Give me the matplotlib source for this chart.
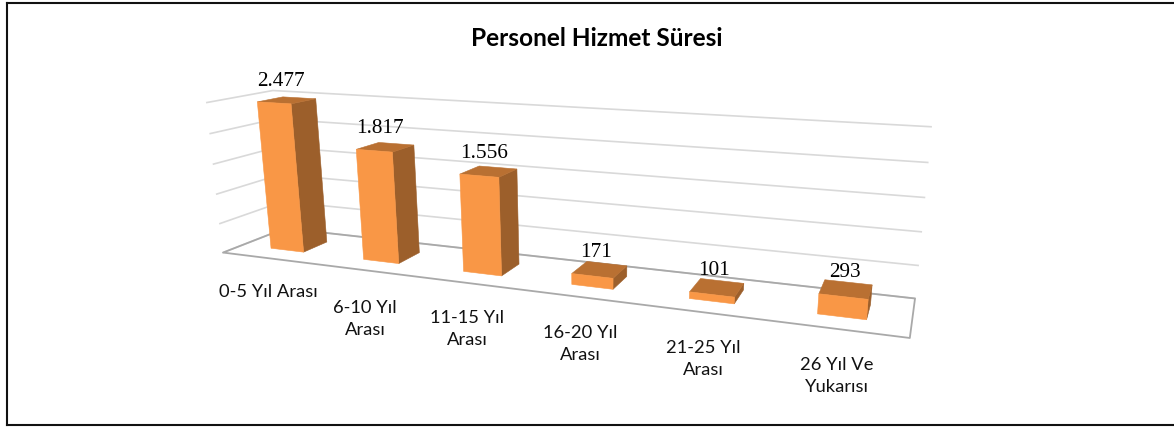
import numpy as np
import matplotlib
matplotlib.use("Agg")
import matplotlib.pyplot as plt
from matplotlib.patches import Polygon

title = "Personel Hizmet Süresi"
categories = ["0-5 Yıl Arası", "6-10 Yıl\nArası", "11-15 Yıl\nArası",
              "16-20 Yıl\nArası", "21-25 Yıl\nArası", "26 Yıl Ve\nYukarısı"]
values = [2477, 1817, 1556, 171, 101, 293]
value_labels = ["2.477", "1.817", "1.556", "171", "101", "293"]
grid_values = [0, 500, 1000, 1500, 2000, 2500]

# Layout: label centres in pixels
label_xy = [(268, 292), (365, 319), (467, 329), (580, 344), (703, 359), (837, 376)]

FRONT, SIDE, TOP = "#F99746", "#9C5F2B", "#B97032"
GRID, FLOOR = "#D9D9D9", "#A9A9A9"
BAR_W, Y0, Y1 = 0.36, 0.30, 0.70
W, H = 1174, 430

# Calibration of the chart's perspective: (category, depth, value) -> pixel
calib = [
    (0, 0, 0, 223, 252), (0, 1, 0, 286, 229), (6, 1, 0, 915, 298), (6, 0, 0, 910, 338),
    (0, 0, 2500, 207, 103), (0, 1, 2500, 272, 90), (6, 1, 2500, 931, 127),
    (.5, Y0, 0, 286.5, 250), (1.5, Y0, 0, 381, 262), (2.5, Y0, 0, 482, 274),
    (3.5, Y0, 0, 592, 286), (4.5, Y0, 0, 712, 301), (5.5, Y0, 0, 842, 317),
    (.5, Y0, 2477, 274.5, 103), (1.5, Y0, 1817, 375, 150), (2.5, Y0, 1556, 479, 176),
    (5.5, Y0, 293, 843, 297),
]
A, b = [], []
for x, y, z, u, v in calib:
    z = z / 1000
    A.append([x, y, z, 1, 0, 0, 0, 0, -u * x, -u * y, -u * z]); b.append(u)
    A.append([0, 0, 0, 0, x, y, z, 1, -v * x, -v * y, -v * z]); b.append(v)
p = np.linalg.lstsq(np.array(A, float), np.array(b, float), rcond=None)[0]
P = np.append(p, 1).reshape(3, 4)


def proj(x, y, z):
    q = P @ np.array([x, y, z / 1000, 1.0])
    return q[0] / q[2], q[1] / q[2]


fig = plt.figure(figsize=(W / 100, H / 100), dpi=100)
ax = fig.add_axes([0, 0, 1, 1])
ax.set_xlim(0, W)
ax.set_ylim(H, 0)
ax.axis("off")

# outer frame
ax.plot([7, 7], [2.5, 425], color="#111111", lw=1.5, zorder=1)
ax.plot([7, W], [2.5, 2.5], color="#111111", lw=1.5, zorder=1)
ax.plot([7, W], [425, 425], color="#111111", lw=1.5, zorder=1)

n = len(values)
for g in grid_values:
    a, c, d = proj(0, 0, g), proj(0, 1, g), proj(n, 1, g)
    ax.plot([a[0], c[0], d[0]], [a[1], c[1], d[1]], color=GRID, lw=1.2, zorder=2)

fl = [proj(0, 1, 0), proj(0, 0, 0), proj(n, 0, 0), proj(n, 1, 0), proj(0, 1, 0)]
ax.plot(*zip(*fl), color=FLOOR, lw=1.3, zorder=3)

for i, v in enumerate(values):
    x0, x1 = i + .5 - BAR_W / 2, i + .5 + BAR_W / 2
    faces = [
        ([(x1, Y0, 0), (x1, Y1, 0), (x1, Y1, v), (x1, Y0, v)], SIDE),
        ([(x0, Y0, v), (x1, Y0, v), (x1, Y1, v), (x0, Y1, v)], TOP),
        ([(x0, Y0, 0), (x1, Y0, 0), (x1, Y0, v), (x0, Y0, v)], FRONT),
    ]
    for pts, col in faces:
        ax.add_patch(Polygon([proj(*q) for q in pts], closed=True, fc=col, ec=col, lw=.4, zorder=4 + i))
    tx, ty = proj(i + .5, Y0 + 0.1, v)
    ax.text(tx, ty - 20, value_labels[i], family="Liberation Serif", fontsize=15.3,
            ha="center", va="center", color="black", zorder=20)

for lab, (x, y) in zip(categories, label_xy):
    ax.text(x, y, lab, family="Lato", fontsize=13.2, ha="center", va="center",
            color="#111111", linespacing=1.5, zorder=20)

ax.text(597, 38, title, family="Lato", fontsize=17.6, fontweight="bold",
        ha="center", va="center", color="black", zorder=20)

fig.savefig("out.png", dpi=100)
